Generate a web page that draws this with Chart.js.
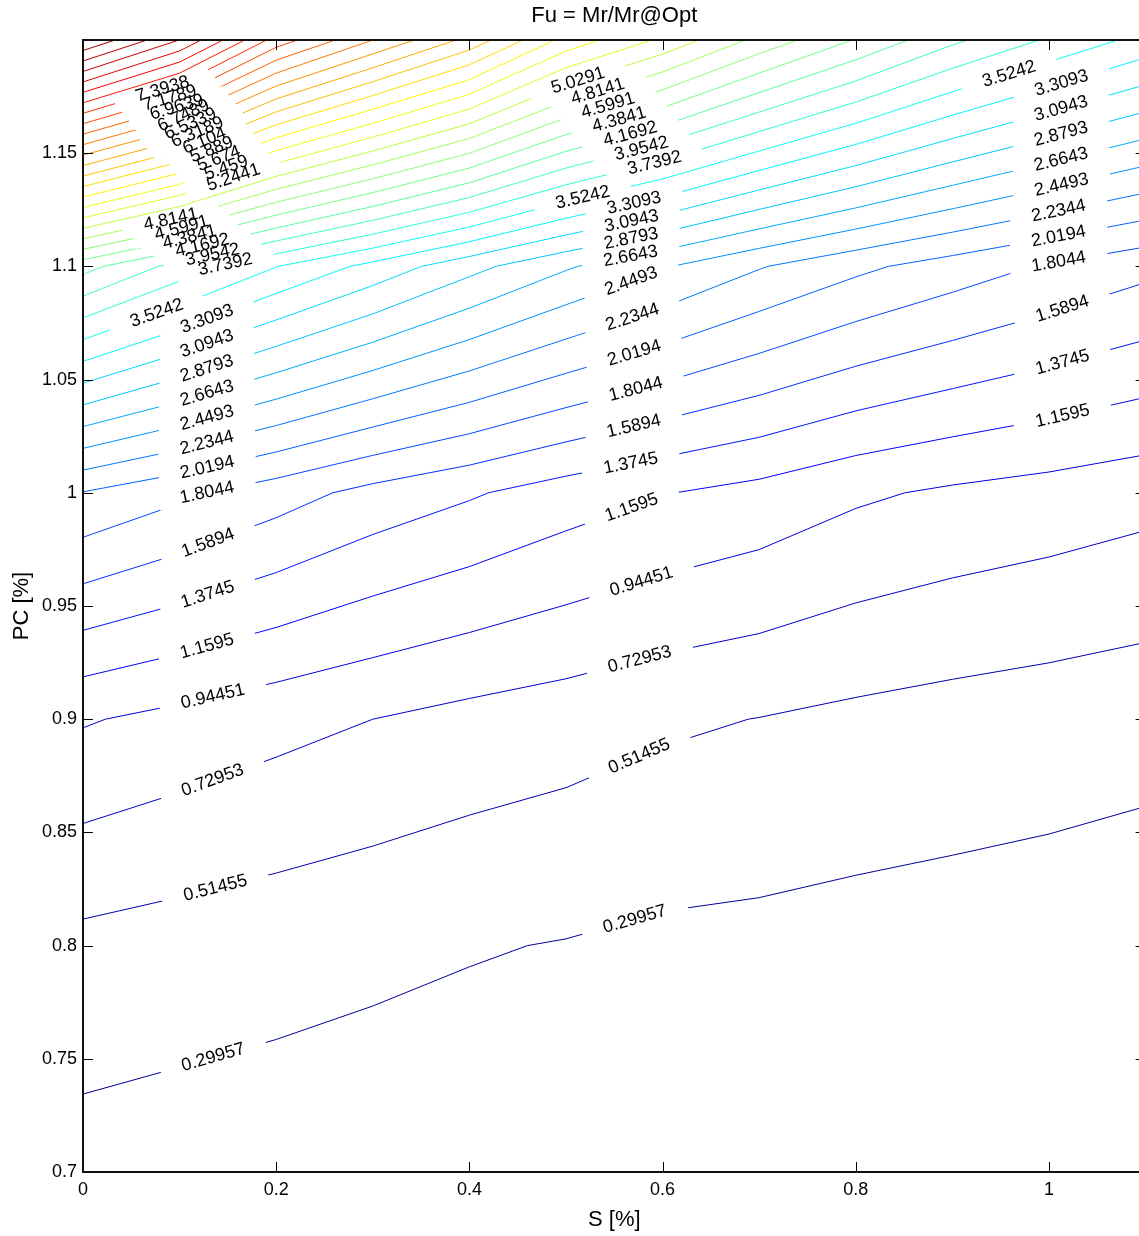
<!DOCTYPE html>
<html>
<head>
<meta charset="utf-8">
<style>
html,body{margin:0;padding:0;overflow:hidden;background:#fff;}
canvas{display:block;}
</style>
<script src="https://cdn.jsdelivr.net/npm/chart.js@4.4.0/dist/chart.umd.min.js"></script>
</head>
<body>
<canvas id="c" width="1160" height="1236"></canvas>
<script>
// ---------------- data (grid of Fu values) ----------------
const S_VALUES  = [0, 0.1, 0.2, 0.3, 0.4, 0.5, 0.6, 0.7, 0.8, 0.9, 1.0, 1.1];
const PC_VALUES = [0.7, 0.8, 0.9, 1.0, 1.1, 1.2];
const FU_AT_PC_070 = [0.218, 0.200, 0.186, 0.172, 0.160, 0.150, 0.140, 0.130, 0.120, 0.110, 0.100, 0.090];
const FU_AT_PC_080 = [0.455, 0.415, 0.380, 0.346, 0.314, 0.290, 0.255, 0.243, 0.225, 0.213, 0.202, 0.192];
const FU_AT_PC_090 = [0.964, 0.880, 0.800, 0.7295, 0.662, 0.612, 0.550, 0.510, 0.465, 0.430, 0.400, 0.367];
const FU_AT_PC_100 = [2.010, 1.850, 1.687, 1.520, 1.400, 1.270, 1.170, 1.090, 0.980, 0.910, 0.860, 0.802];
const FU_AT_PC_110 = [4.248, 3.870, 3.530, 3.240, 2.950, 2.690, 2.470, 2.250, 2.070, 1.920, 1.780, 1.650];
const FU_AT_PC_120 = [8.900, 8.250, 7.300, 6.750, 6.250, 5.600, 5.200, 4.750, 4.370, 4.000, 3.710, 3.450];

const LEVELS = [0.29957, 0.51455, 0.72953, 0.94451, 1.1595, 1.3745, 1.5894, 1.8044, 2.0194, 2.2344,
  2.4493, 2.6643, 2.8793, 3.0943, 3.3093, 3.5242, 3.7392, 3.9542, 4.1692, 4.3841,
  4.5991, 4.8141, 5.0291, 5.2441, 5.459, 5.674, 5.889, 6.104, 6.3189, 6.5339,
  6.7489, 6.9639, 7.1789, 7.3938, 7.6088, 7.8238, 8.0387, 8.2537, 8.4687, 8.6837];
const COLOR_MIN = 0.08459, COLOR_MAX = 8.8988;

const X_TICKS = [0, 0.2, 0.4, 0.6, 0.8, 1];
const X_TICK_LABELS = ['0', '0.2', '0.4', '0.6', '0.8', '1'];
const Y_TICKS = [0.7, 0.75, 0.8, 0.85, 0.9, 0.95, 1.0, 1.05, 1.1, 1.15];
const Y_TICK_LABELS = ['0.7', '0.75', '0.8', '0.85', '0.9', '0.95', '1', '1.05', '1.1', '1.15'];

// contour labels: level index, S, PC (approximate, snapped onto the contour)
const LABEL_LEVEL = [0,1,2,3,4,5,6,7,8,9,10,11,12,13,14,15,16,17,18,19,20,21,
  23,24,25,26,27,28,29,30,31,32,33,
  22,21,20,19,18,17,16,15,14,13,12,11,10,9,8,7,6,5,4,3,2,1,0,
  15,14,13,12,11,10,9,8,7,6,5,4];
const LABEL_S = [0.135,0.137,0.135,0.135,0.129,0.129,0.129,0.129,0.129,0.129,0.129,0.129,0.129,0.129,0.129,0.0776,0.148,0.1346,0.1242,0.1108,0.1025,0.0911,
  0.1563,0.149,0.1416,0.1343,0.1269,0.1196,0.1122,0.1049,0.0975,0.0902,0.0828,
  0.5135,0.5331,0.5435,0.5549,0.5663,0.5776,0.5911,0.5176,0.5704,0.5683,0.5673,0.5673,0.5673,0.5683,0.5704,0.5725,0.5704,0.5673,0.5683,0.5787,0.5766,0.5776,0.5735,
  0.9596,1.0135,1.0135,1.0135,1.0135,1.0135,1.0104,1.0104,1.0104,1.0135,1.0135,1.0135];
const LABEL_PC = [0.7503,0.8253,0.8721,0.9092,0.9312,0.9551,0.9785,0.9988,1.0107,1.0208,1.0319,1.0429,1.0539,1.0650,1.0760,1.0778,1.0994,1.1042,1.1082,1.1122,1.1162,1.1201,
  1.1387,1.1425,1.1464,1.1503,1.1542,1.1581,1.1620,1.1658,1.1697,1.1736,1.1775,
  1.1806,1.1771,1.1709,1.1651,1.1590,1.1528,1.1466,1.1298,1.1281,1.1192,1.1126,1.1038,1.0936,1.0782,1.0619,1.0455,1.0288,1.0124,0.9930,0.9599,0.9259,0.8818,0.8081,
  1.1837,1.1801,1.1682,1.1568,1.1453,1.1351,1.1237,1.1122,1.1011,1.0817,1.0583,1.0349];

// ---------------- contour tracing (marching squares on the grid) ----------------
const Z = [FU_AT_PC_070, FU_AT_PC_080, FU_AT_PC_090, FU_AT_PC_100, FU_AT_PC_110, FU_AT_PC_120];

function traceContours(level) {
  const nx = S_VALUES.length, ny = PC_VALUES.length;
  const segs = [];
  const ip = (x0, y0, z0, x1, y1, z1) => {
    const t = (level - z0) / (z1 - z0);
    return { x: x0 + t * (x1 - x0), y: y0 + t * (y1 - y0) };
  };
  for (let j = 0; j < ny - 1; j++) {
    for (let i = 0; i < nx - 1; i++) {
      const x0 = S_VALUES[i], x1 = S_VALUES[i + 1], y0 = PC_VALUES[j], y1 = PC_VALUES[j + 1];
      const a = Z[j][i], b = Z[j][i + 1], c = Z[j + 1][i + 1], d = Z[j + 1][i];
      const pts = [];
      if ((a >= level) !== (b >= level)) pts.push({ key: 'h' + i + '_' + j, p: ip(x0, y0, a, x1, y0, b) });
      if ((b >= level) !== (c >= level)) pts.push({ key: 'v' + (i + 1) + '_' + j, p: ip(x1, y0, b, x1, y1, c) });
      if ((d >= level) !== (c >= level)) pts.push({ key: 'h' + i + '_' + (j + 1), p: ip(x0, y1, d, x1, y1, c) });
      if ((a >= level) !== (d >= level)) pts.push({ key: 'v' + i + '_' + j, p: ip(x0, y0, a, x0, y1, d) });
      if (pts.length === 2) segs.push([pts[0], pts[1]]);
      else if (pts.length === 4) {
        const center = (a + b + c + d) / 4;
        if ((center >= level) === (a >= level)) { segs.push([pts[0], pts[1]]); segs.push([pts[2], pts[3]]); }
        else { segs.push([pts[0], pts[3]]); segs.push([pts[1], pts[2]]); }
      }
    }
  }
  const used = new Array(segs.length).fill(false);
  const byKey = {};
  segs.forEach((s, idx) => { s.forEach(e => { (byKey[e.key] = byKey[e.key] || []).push(idx); }); });
  const walk = (line, key) => {
    let k = key;
    while (true) {
      const nxt = (byKey[k] || []).find(id => !used[id]);
      if (nxt === undefined) break;
      used[nxt] = true;
      const s = segs[nxt];
      const other = s[0].key === k ? s[1] : s[0];
      line.push(other.p);
      k = other.key;
    }
  };
  const lines = [];
  for (let idx = 0; idx < segs.length; idx++) {
    if (used[idx]) continue;
    used[idx] = true;
    const fwd = [segs[idx][0].p, segs[idx][1].p];
    walk(fwd, segs[idx][1].key);
    const back = [];
    walk(back, segs[idx][0].key);
    lines.push(back.reverse().concat(fwd));
  }
  return lines;
}

function jet(t) {
  const cl = v => Math.max(0, Math.min(1, v));
  const r = cl(Math.min(4 * t - 1.5, -4 * t + 4.5));
  const g = cl(Math.min(4 * t - 0.5, -4 * t + 3.5));
  const b = cl(Math.min(4 * t + 0.5, -4 * t + 2.5));
  return 'rgb(' + Math.round(r * 255) + ',' + Math.round(g * 255) + ',' + Math.round(b * 255) + ')';
}

const CONTOURS = LEVELS.map(traceContours);
const datasets = [];
CONTOURS.forEach((lines, k) => {
  const col = jet((LEVELS[k] - COLOR_MIN) / (COLOR_MAX - COLOR_MIN));
  lines.forEach(line => {
    datasets.push({
      data: line.map(p => ({ x: p.x, y: p.y })),
      showLine: true, borderColor: col, borderWidth: 1, pointRadius: 0, pointHoverRadius: 0,
      tension: 0, fill: false, borderJoinStyle: 'round', borderCapStyle: 'round'
    });
  });
});

const FONT = '"Liberation Sans", Arial, Helvetica, sans-serif';

function nearestOnSeg(px, py, ax, ay, bx, by) {
  const dx = bx - ax, dy = by - ay;
  const L = dx * dx + dy * dy;
  let t = L > 0 ? ((px - ax) * dx + (py - ay) * dy) / L : 0;
  t = Math.max(0, Math.min(1, t));
  const qx = ax + t * dx, qy = ay + t * dy;
  return { qx, qy, d: Math.hypot(qx - px, qy - py) };
}

const labelPlugin = {
  id: 'contourLabels',
  afterDatasetsDraw(chart) {
    const { ctx, chartArea: a, scales: { x, y } } = chart;
    ctx.save();
    ctx.beginPath(); ctx.rect(a.left, a.top, a.right - a.left, a.bottom - a.top); ctx.clip();
    ctx.font = '18px ' + FONT;
    const items = LABEL_LEVEL.map((k, n) => {
      const px = x.getPixelForValue(LABEL_S[n]), py = y.getPixelForValue(LABEL_PC[n]);
      let best = Infinity, ang = 0, cx = px, cy = py;
      CONTOURS[k].forEach(line => {
        for (let m = 0; m < line.length - 1; m++) {
          const ax = x.getPixelForValue(line[m].x), ay = y.getPixelForValue(line[m].y);
          const bx = x.getPixelForValue(line[m + 1].x), by = y.getPixelForValue(line[m + 1].y);
          const r = nearestOnSeg(px, py, ax, ay, bx, by);
          if (r.d < best) { best = r.d; ang = Math.atan2(by - ay, bx - ax); cx = r.qx; cy = r.qy; }
        }
      });
      if (ang > Math.PI / 2) ang -= Math.PI;
      if (ang < -Math.PI / 2) ang += Math.PI;
      // snap onto the contour when it is close
      if (best < 12) { return { px: cx, py: cy, ang, text: String(LEVELS[k]) }; }
      return { px, py, ang, text: String(LEVELS[k]) };
    });
    const GAP = 22;
    ctx.fillStyle = '#fff';
    items.forEach(it => {
      const w = ctx.measureText(it.text).width;
      ctx.save(); ctx.translate(it.px, it.py); ctx.rotate(it.ang);
      ctx.fillRect(-w / 2 - GAP, -8, w + 2 * GAP, 16);
      ctx.restore();
    });
    ctx.fillStyle = '#000'; ctx.textAlign = 'center'; ctx.textBaseline = 'middle';
    items.forEach(it => {
      ctx.save(); ctx.translate(it.px, it.py); ctx.rotate(it.ang);
      ctx.fillText(it.text, 0, 0);
      ctx.restore();
    });
    ctx.restore();
  }
};

const framePlugin = {
  id: 'frame',
  afterDraw(chart) {
    const { ctx, chartArea: a, scales: { x, y } } = chart;
    ctx.save();
    ctx.strokeStyle = '#000'; ctx.lineWidth = 1;
    ctx.beginPath();
    X_TICKS.forEach(v => {
      const px = Math.round(x.getPixelForValue(v)) + 0.5;
      ctx.moveTo(px, a.bottom); ctx.lineTo(px, a.bottom - 10);
      ctx.moveTo(px, a.top); ctx.lineTo(px, a.top + 10);
    });
    Y_TICKS.forEach(v => {
      const py = Math.round(y.getPixelForValue(v)) + 0.5;
      ctx.moveTo(a.left, py); ctx.lineTo(a.left + 10, py);
      ctx.moveTo(a.right, py); ctx.lineTo(a.right - 10, py);
    });
    ctx.stroke();
    ctx.strokeStyle = '#111'; ctx.lineWidth = 2;
    ctx.strokeRect(a.left, a.top, a.right - a.left, a.bottom - a.top);
    ctx.restore();
  }
};

new Chart(document.getElementById('c'), {
  type: 'scatter',
  data: { datasets },
  options: {
    responsive: false, animation: false, events: [],
    layout: { padding: { left: 0, top: 0, right: 14.4, bottom: 0 } },
    plugins: {
      legend: { display: false }, tooltip: { enabled: false },
      title: { display: true, text: 'Fu = Mr/Mr@Opt', fullSize: false, color: '#000',
        font: { family: FONT, size: 22, weight: 'normal' }, padding: { top: 3, bottom: 10.6 } }
    },
    scales: {
      x: {
        type: 'linear', min: 0, max: 1.1,
        afterBuildTicks: s => { s.ticks = X_TICKS.map(v => ({ value: v })); },
        afterFit: s => { s.height = 64; },
        grid: { display: false, drawTicks: false }, border: { display: false },
        ticks: { callback: (v, i) => X_TICK_LABELS[i], color: '#000', font: { family: FONT, size: 18 }, padding: 7, maxRotation: 0, autoSkip: false },
        title: { display: true, text: 'S [%]', color: '#000', font: { family: FONT, size: 22 }, padding: { top: 0, bottom: 3 } }
      },
      y: {
        type: 'linear', min: 0.7, max: 1.2,
        afterBuildTicks: s => { s.ticks = Y_TICKS.map(v => ({ value: v })); },
        afterFit: s => { s.width = 83; },
        grid: { display: false, drawTicks: false }, border: { display: false },
        ticks: { callback: (v, i) => Y_TICK_LABELS[i], color: '#000', font: { family: FONT, size: 18 }, padding: 6, autoSkip: false },
        title: { display: true, text: 'PC [%]', color: '#000', font: { family: FONT, size: 22 }, padding: { top: 9, bottom: 0 } }
      }
    }
  },
  plugins: [labelPlugin, framePlugin]
});
</script>
</body>
</html>
